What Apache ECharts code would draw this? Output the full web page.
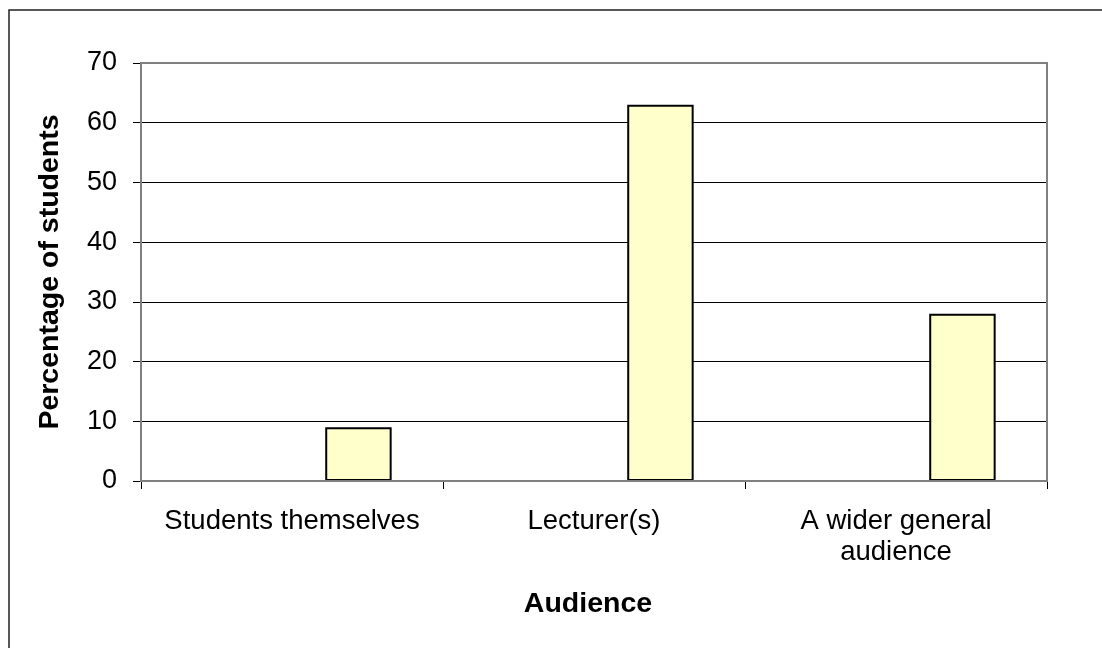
<!DOCTYPE html>
<html>
<head>
<meta charset="utf-8">
<script src="https://cdn.jsdelivr.net/npm/echarts@6/dist/echarts.min.js"></script>
<style>
html,body{margin:0;padding:0;background:#fff;}
#chart{width:1102px;height:648px;}
</style>
</head>
<body>
<div id="chart"></div>
<script>
const categories = ['Students themselves', 'Lecturer(s)', 'A wider general\naudience'];
const percentages = [9, 63, 28];
const yTicks = [0, 10, 20, 30, 40, 50, 60, 70];
const emptySeries = ['-', '-', '-'];

const FONT = '"Liberation Sans", Arial, sans-serif';
const chart = echarts.init(document.getElementById('chart'), null, {renderer: 'canvas'});
chart.setOption({
  backgroundColor: '#fff',
  animation: false,
  graphic: [{
    type: 'rect', z: 100, silent: true,
    shape: {x: 9, y: 10, width: 1200, height: 1000},
    style: {fill: 'none', stroke: '#222', lineWidth: 1.5}
  }],
  grid: {
    left: 141, top: 63, right: 55, bottom: 167,
    show: true, borderColor: '#808080', borderWidth: 2, backgroundColor: 'transparent', z: 3
  },
  xAxis: {
    type: 'category',
    data: categories,
    name: 'Audience',
    nameLocation: 'middle',
    nameGap: 109,
    nameTextStyle: {fontFamily: FONT, fontSize: 28.5, fontWeight: 'bold', color: '#000', padding: [0, 12, 0, 0]},
    axisLine: {lineStyle: {color: '#000', width: 1.5}},
    axisTick: {show: true, length: 8, lineStyle: {color: '#000'}},
    axisLabel: {fontFamily: FONT, fontSize: 27.5, color: '#000', margin: 25, lineHeight: 31, interval: 0}
  },
  yAxis: {
    type: 'value',
    min: 0, max: 70, interval: 10,
    name: 'Percentage of students',
    nameLocation: 'middle',
    nameRotate: 90,
    nameGap: 76,
    nameTextStyle: {fontFamily: FONT, fontSize: 28.5, fontWeight: 'bold', color: '#000'},
    axisLine: {show: true, lineStyle: {color: '#000', width: 1.5}},
    axisTick: {show: true, length: 8, lineStyle: {color: '#000'}},
    axisLabel: {fontFamily: FONT, fontSize: 27, color: '#000', margin: 24,
      formatter: function (v) { return yTicks.indexOf(v) >= 0 ? String(v) : ''; }},
    splitLine: {show: true, lineStyle: {color: '#000', width: 1}}
  },
  series: [
    {type: 'bar', data: emptySeries, barGap: '0%', barCategoryGap: '34%'},
    {type: 'bar', data: emptySeries, barGap: '0%', barCategoryGap: '34%'},
    {type: 'bar', data: percentages, barGap: '0%', barCategoryGap: '34%',
      itemStyle: {color: '#FFFFCC', borderColor: '#000', borderWidth: 2}}
  ]
});
</script>
</body>
</html>
